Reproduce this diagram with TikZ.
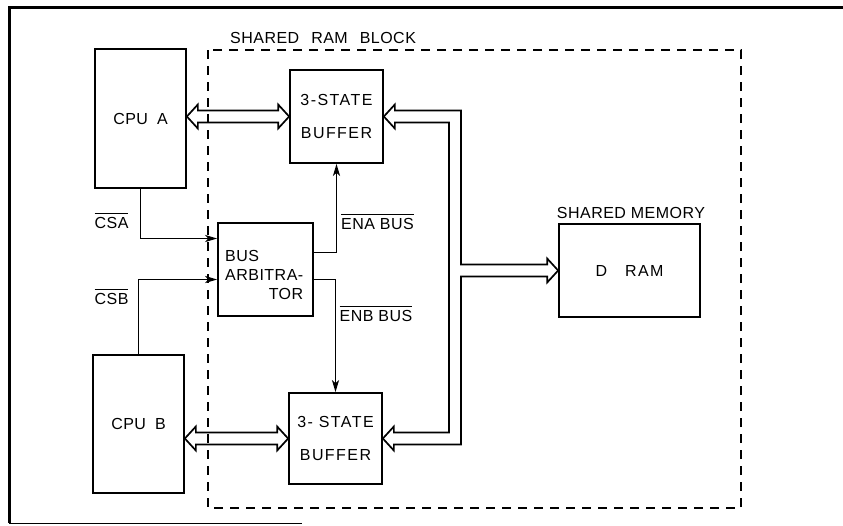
\documentclass[tikz,border=0pt]{standalone}
\usepackage{fontspec}
\setmainfont{Liberation Sans}[LetterSpace=3]
\usetikzlibrary{arrows.meta}
\newcommand{\spread}{\addfontfeatures{LetterSpace=9}}
\newcommand{\ovl}[1]{\leavevmode\vbox{\hrule height 1.2pt\kern3pt\hbox{#1}}}
\newcommand{\dblbus}[2]{\draw[bus] (#1)--([shift={(11,-12)}]#1)--([shift={(11,-6)}]#1)--([shift={(-11,-6)}]#2)--([shift={(-11,-12)}]#2)--(#2)--([shift={(-11,12)}]#2)--([shift={(-11,6)}]#2)--([shift={(11,6)}]#1)--([shift={(11,12)}]#1)--cycle;}
\tikzset{blk/.style={draw,line width=1.7pt,align=center},
wide/.style={font=\fontsize{16}{19}\selectfont\spread},
sig/.style={line width=1.7pt,-{Stealth[length=12pt,width=7pt,inset=3pt]}},
bus/.style={line width=1.7pt,line join=miter}}

\begin{document}
\begin{tikzpicture}[x=1pt,y=-1pt,inner sep=0pt,font=\fontsize{16}{19}\selectfont]
\useasboundingbox (0,0) rectangle (843,525);
\draw[line width=3pt] (843,7)--(9,7)--(9,523); \draw[line width=1pt] (9,523)--(302,523);
\draw[line width=1.2pt,dash pattern=on 9pt off 7pt] (208,50) rectangle (741,508);
\node[anchor=west] (blocklbl) at (230,38) {SHARED\hspace{12pt}RAM\hspace{12pt}BLOCK};
\node[blk,minimum width=91,minimum height=139] (cpua) at (140.5,118.5) {CPU\hspace{9pt}A};
\node[blk,minimum width=91,minimum height=138] (cpub) at (138.5,424) {CPU\hspace{9pt}B};
\node[blk,wide,minimum width=93,minimum height=93] (bufa) at (336.5,116.5) {3-STATE\\[14pt]BUFFER};
\node[blk,wide,minimum width=93,minimum height=91] (bufb) at (335.5,438.5) {3- STATE\\[14pt]BUFFER};
\node[blk,minimum width=95,minimum height=93] (arb) at (265.5,269.5) {};
\node[anchor=west] (arbtxt) at (225,277) {\begin{tabular}{@{}l@{}}BUS\\ARBITRA-\\\hfill TOR\end{tabular}};
\node[blk,minimum width=141,minimum height=93] (dram) at (629.5,270.5) {D\hspace{18pt}{\spread RAM}};
\node[anchor=base] (memlbl) at (631,218) {SHARED MEMORY};
\node[anchor=base] (csa) at (111.5,228) {\ovl{CSA}};\node[anchor=base] (csb) at (111.5,304) {\ovl{CSB}};
\node[anchor=base] (ena) at (377.5,229) {\ovl{ENA BUS}};\node[anchor=base] (enb) at (376,321) {\ovl{ENB BUS}};
\coordinate (pa) at (bufa.west -| cpua.east); \coordinate (pb) at (bufb.west -| cpub.east);
\dblbus{pa}{bufa.west} \dblbus{pb}{bufb.west}
\draw[sig] (cpua.south) |- ([shift={(0,-31)}]arb.west); \draw[sig] (cpub.north) |- ([shift={(0,10)}]arb.west);
\draw[sig] ([shift={(0,-17)}]arb.east) -| (bufa.south); \draw[sig] ([shift={(0,10)}]arb.east) -| (bufb.north);
\coordinate (bx) at (455,0);
\coordinate (ta) at (bufa.east -| bx); \coordinate (td) at (dram.west -| bx); \coordinate (tb) at (bufb.east -| bx);
\draw[bus] (bufa.east)--([shift={(11,-12)}]bufa.east)--([shift={(11,-6)}]bufa.east)--([shift={(6,-6)}]ta)--([shift={(6,-6)}]td)
 --([shift={(-11,-6)}]dram.west)--([shift={(-11,-12)}]dram.west)--(dram.west)--([shift={(-11,12)}]dram.west)--([shift={(-11,6)}]dram.west)
 --([shift={(6,6)}]td)--([shift={(6,6)}]tb)--([shift={(11,6)}]bufb.east)--([shift={(11,12)}]bufb.east)--(bufb.east)
 --([shift={(11,-12)}]bufb.east)--([shift={(11,-6)}]bufb.east)--([shift={(-6,-6)}]tb)--([shift={(-6,6)}]ta)
 --([shift={(11,6)}]bufa.east)--([shift={(11,12)}]bufa.east)--cycle;
\end{tikzpicture}
\end{document}
